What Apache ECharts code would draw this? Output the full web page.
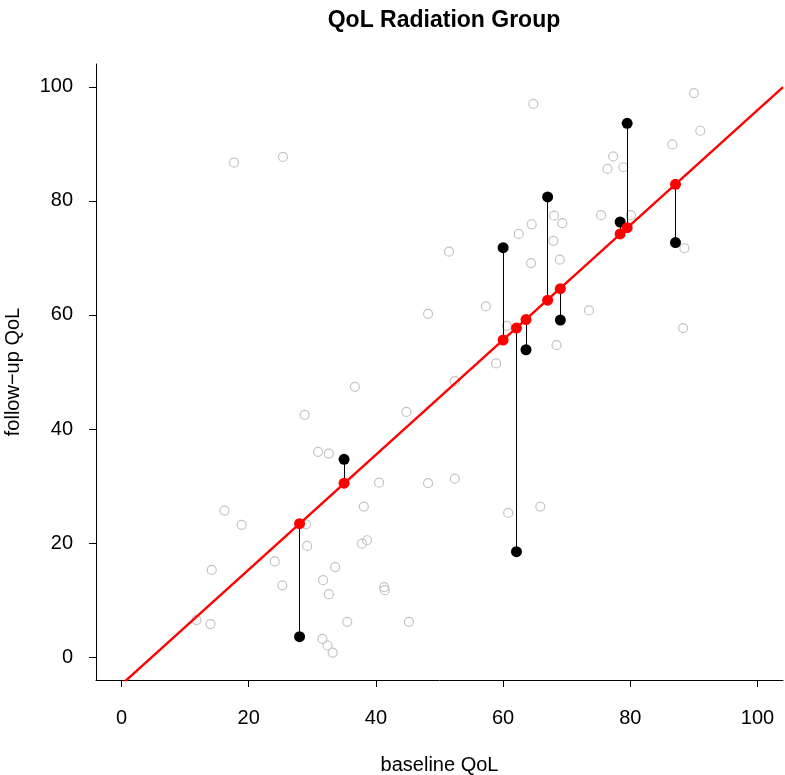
<!DOCTYPE html>
<html>
<head>
<meta charset="utf-8">
<script src="https://cdn.jsdelivr.net/npm/echarts@6/dist/echarts.min.js"></script>
<style>
  html, body { margin: 0; padding: 0; background: #fff; }
  #chart { width: 785px; height: 775px; }
</style>
</head>
<body>
<div id="chart"></div>
<script>
// All patients: baseline vs follow-up quality of life
const allBaseline = [17.7, 25.4, 64.75, 77.3, 76.4, 78.9, 68.0, 69.3, 64.5, 75.4,
  80.1, 62.45, 67.9, 51.5, 64.4, 68.9, 90.0, 91.0, 86.6, 88.5,
  36.7, 28.8, 30.9, 32.6, 48.2, 57.3, 60.6, 68.4, 58.9, 52.4,
  44.8, 73.5, 88.3, 16.2, 18.9, 29.0, 29.2, 24.1, 14.2, 25.3,
  38.1, 40.5, 37.8, 38.6, 33.6, 31.7, 32.6, 11.8, 14.0, 35.5,
  31.6, 32.4, 33.2, 48.2, 52.4, 60.8, 65.85, 41.3, 41.4, 45.2];
const allFollowup = [86.7, 87.7, 97.0, 87.8, 85.6, 85.9, 77.4, 76.1, 75.9, 77.5,
  77.5, 74.2, 73.0, 71.1, 69.1, 69.7, 98.9, 92.3, 89.9, 71.7,
  47.4, 42.5, 36.0, 35.7, 60.2, 61.5, 58.1, 54.7, 51.5, 48.4,
  43.0, 60.8, 57.7, 25.7, 23.2, 23.3, 19.5, 16.8, 15.3, 12.6,
  26.4, 30.6, 19.9, 20.5, 15.8, 13.5, 11.05, 6.5, 5.8, 6.2,
  3.2, 2.05, 0.8, 30.5, 31.3, 25.3, 26.4, 12.3, 11.75, 6.2];

// Highlighted patients: observed follow-up and value on the fitted line
const subjBaseline = [28.0, 35.0, 60.0, 62.1, 63.6, 67.0, 69.0, 78.4, 79.5, 87.1];
const subjFollowup = [3.6, 34.7, 71.8, 18.5, 53.9, 80.7, 59.1, 76.3, 93.6, 72.7];
const subjFitted   = [23.4, 30.5, 55.6, 57.7, 59.2, 62.6, 64.6, 74.2, 75.3, 82.9];

// Regression line
const fitIntercept = -4.8;
const fitSlope = 1.007;

const tickValues = [0, 20, 40, 60, 80, 100];
const axisMin = -4, axisMax = 104;

const font = "'Liberation Sans', Arial, Helvetica, sans-serif";

const grayPts = allBaseline.map((x, i) => [x, allFollowup[i]]);
const obsPts = subjBaseline.map((x, i) => [x, subjFollowup[i]]);
const fitPts = subjBaseline.map((x, i) => [x, subjFitted[i]]);
const residSegs = subjBaseline.map((x, i) => ({ coords: [[x, subjFitted[i]], [x, subjFollowup[i]]] }));
const fitLine = [axisMin, axisMax].map(x => [x, fitIntercept + fitSlope * x]);

function axisCommon() {
  return {
    type: 'value',
    min: axisMin,
    max: axisMax,
    splitLine: { show: false },
    axisLine: { show: true, onZero: false, lineStyle: { color: '#000', width: 1 } },
    axisTick: { show: true, length: 7, customValues: tickValues, lineStyle: { color: '#000', width: 1 } },
    axisLabel: { customValues: tickValues, color: '#000', fontSize: 20, fontFamily: font },
    nameLocation: 'middle',
    nameTextStyle: { color: '#000', fontSize: 20, fontFamily: font }
  };
}

const xAxis = Object.assign(axisCommon(), { name: 'baseline QoL', nameGap: 75 });
xAxis.axisLabel.margin = 28;
const yAxis = Object.assign(axisCommon(), { name: 'follow\u2212up QoL', nameGap: 73, nameRotate: 90 });
yAxis.axisLabel.margin = 23;

const chart = echarts.init(document.getElementById('chart'), null, { renderer: 'canvas' });
chart.setOption({
  animation: false,
  backgroundColor: '#fff',
  title: {
    text: 'QoL Radiation Group',
    left: 439,
    textAlign: 'center',
    top: 4,
    textStyle: { color: '#000', fontSize: 23, fontWeight: 'bold', fontFamily: font }
  },
  grid: { left: 96, right: 2, top: 64, bottom: 95, containLabel: false, outerBoundsMode: 'none' },
  xAxis: xAxis,
  yAxis: yAxis,
  series: [
    {
      type: 'scatter',
      data: grayPts,
      symbol: 'circle',
      symbolSize: 9,
      itemStyle: { color: 'rgba(255,255,255,0)', borderColor: '#c4c4c4', borderWidth: 1.2, opacity: 1 },
      z: 1
    },
    {
      type: 'line',
      data: fitLine,
      showSymbol: false,
      clip: true,
      lineStyle: { color: '#ff0000', width: 2.4 },
      z: 2
    },
    {
      type: 'lines',
      coordinateSystem: 'cartesian2d',
      data: residSegs,
      lineStyle: { color: '#000', width: 1, opacity: 1 },
      z: 3
    },
    {
      type: 'scatter',
      data: obsPts,
      symbol: 'circle',
      symbolSize: 11,
      itemStyle: { color: '#000', opacity: 1 },
      z: 4
    },
    {
      type: 'scatter',
      data: fitPts,
      symbol: 'circle',
      symbolSize: 11,
      itemStyle: { color: '#ff0000', opacity: 1 },
      z: 5
    }
  ]
});
</script>
</body>
</html>
